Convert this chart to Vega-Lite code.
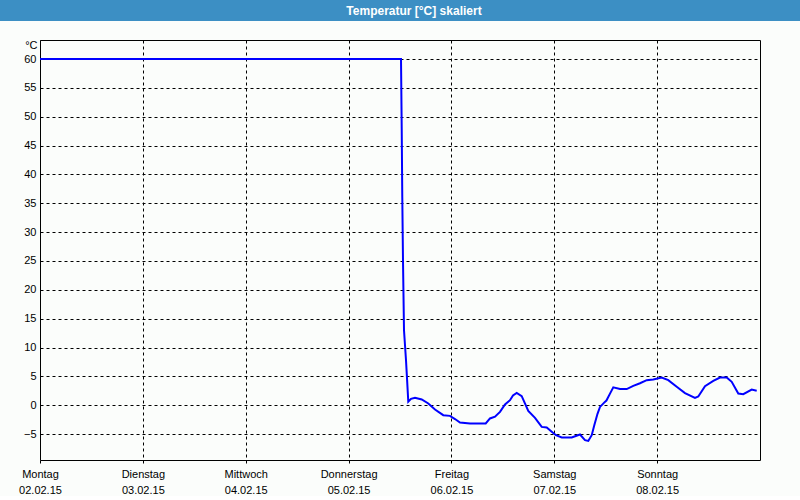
{
  "$schema": "https://vega.github.io/schema/vega-lite/v6.json",
  "padding": 0,
  "background": "#fbfdfb",
  "spacing": 19,
  "bounds": "flush",
  "center": true,
  "config": {
    "font": "Liberation Sans",
    "axis": {"labelFont": "Liberation Sans", "labelFontSize": 11, "labelColor": "#000000"}
  },
  "vconcat": [
    {
      "width": 800,
      "height": 21,
      "view": {"fill": "#3c8fc4", "stroke": null},
      "data": {"values": [{"titel": "Temperatur [°C] skaliert"}]},
      "mark": {"type": "text", "color": "#ffffff", "fontWeight": "bold", "fontSize": 12, "font": "Liberation Sans", "dx": 14, "baseline": "middle", "align": "center"},
      "encoding": {"text": {"field": "titel"}}
    },
    {
      "width": 720,
      "height": 420,
      "view": {"fill": "#fbfdfb", "stroke": "#000000", "strokeWidth": 1},
      "data": {
        "values": [
          {"zeit": "2015-02-02T00:00", "temp": 60},
          {"zeit": "2015-02-05T12:14", "temp": 60},
          {"zeit": "2015-02-05T12:24", "temp": 48},
          {"zeit": "2015-02-05T12:32", "temp": 36},
          {"zeit": "2015-02-05T12:42", "temp": 25},
          {"zeit": "2015-02-05T12:56", "temp": 13},
          {"zeit": "2015-02-05T13:10", "temp": 10.4},
          {"zeit": "2015-02-05T13:24", "temp": 7.8},
          {"zeit": "2015-02-05T13:38", "temp": 4.7},
          {"zeit": "2015-02-05T13:56", "temp": 0.6},
          {"zeit": "2015-02-05T14:34", "temp": 1.1},
          {"zeit": "2015-02-05T15:30", "temp": 1.3},
          {"zeit": "2015-02-05T17:04", "temp": 1.0},
          {"zeit": "2015-02-05T18:36", "temp": 0.3},
          {"zeit": "2015-02-05T20:10", "temp": -0.75},
          {"zeit": "2015-02-05T22:06", "temp": -1.73},
          {"zeit": "2015-02-05T23:40", "temp": -1.85},
          {"zeit": "2015-02-06T00:50", "temp": -2.4},
          {"zeit": "2015-02-06T02:00", "temp": -3.0},
          {"zeit": "2015-02-06T04:20", "temp": -3.17},
          {"zeit": "2015-02-06T08:00", "temp": -3.17},
          {"zeit": "2015-02-06T09:00", "temp": -2.3},
          {"zeit": "2015-02-06T10:10", "temp": -2.0},
          {"zeit": "2015-02-06T11:20", "temp": -1.16},
          {"zeit": "2015-02-06T12:30", "temp": 0.12},
          {"zeit": "2015-02-06T13:40", "temp": 0.87},
          {"zeit": "2015-02-06T14:22", "temp": 1.7},
          {"zeit": "2015-02-06T15:14", "temp": 2.13},
          {"zeit": "2015-02-06T16:24", "temp": 1.56},
          {"zeit": "2015-02-06T17:56", "temp": -0.98},
          {"zeit": "2015-02-06T19:30", "temp": -2.2},
          {"zeit": "2015-02-06T21:04", "temp": -3.76},
          {"zeit": "2015-02-06T22:14", "temp": -3.87},
          {"zeit": "2015-02-06T23:24", "temp": -4.6},
          {"zeit": "2015-02-07T00:24", "temp": -5.2},
          {"zeit": "2015-02-07T01:44", "temp": -5.6},
          {"zeit": "2015-02-07T04:04", "temp": -5.6},
          {"zeit": "2015-02-07T06:00", "temp": -5.08},
          {"zeit": "2015-02-07T07:10", "temp": -6.07},
          {"zeit": "2015-02-07T07:56", "temp": -6.2},
          {"zeit": "2015-02-07T08:44", "temp": -5.2},
          {"zeit": "2015-02-07T09:20", "temp": -3.47},
          {"zeit": "2015-02-07T10:05", "temp": -1.5},
          {"zeit": "2015-02-07T10:40", "temp": -0.3},
          {"zeit": "2015-02-07T11:35", "temp": 0.4},
          {"zeit": "2015-02-07T12:10", "temp": 0.8},
          {"zeit": "2015-02-07T13:00", "temp": 2.0},
          {"zeit": "2015-02-07T13:46", "temp": 3.1},
          {"zeit": "2015-02-07T15:20", "temp": 2.8},
          {"zeit": "2015-02-07T16:54", "temp": 2.8},
          {"zeit": "2015-02-07T18:26", "temp": 3.35},
          {"zeit": "2015-02-07T20:00", "temp": 3.8},
          {"zeit": "2015-02-07T21:34", "temp": 4.34},
          {"zeit": "2015-02-07T23:06", "temp": 4.45},
          {"zeit": "2015-02-08T01:04", "temp": 4.8},
          {"zeit": "2015-02-08T02:36", "temp": 4.34},
          {"zeit": "2015-02-08T04:34", "temp": 3.2},
          {"zeit": "2015-02-08T06:30", "temp": 2.1},
          {"zeit": "2015-02-08T08:50", "temp": 1.27},
          {"zeit": "2015-02-08T09:36", "temp": 1.5},
          {"zeit": "2015-02-08T11:10", "temp": 3.3},
          {"zeit": "2015-02-08T13:06", "temp": 4.2},
          {"zeit": "2015-02-08T14:40", "temp": 4.8},
          {"zeit": "2015-02-08T16:14", "temp": 4.8},
          {"zeit": "2015-02-08T17:24", "temp": 4.05},
          {"zeit": "2015-02-08T18:56", "temp": 2.03},
          {"zeit": "2015-02-08T20:06", "temp": 1.9},
          {"zeit": "2015-02-08T22:04", "temp": 2.7},
          {"zeit": "2015-02-08T23:14", "temp": 2.5}
        ]
      },
      "mark": {"type": "line", "color": "#0000ff", "strokeWidth": 2, "clip": true},
      "encoding": {
        "x": {
          "field": "zeit",
          "type": "temporal",
          "scale": {"domain": [{"year": 2015, "month": 2, "date": 2}, {"year": 2015, "month": 2, "date": 9}], "nice": false},
          "axis": {
            "title": null,
            "values": [
              {"year": 2015, "month": 2, "date": 2},
              {"year": 2015, "month": 2, "date": 3},
              {"year": 2015, "month": 2, "date": 4},
              {"year": 2015, "month": 2, "date": 5},
              {"year": 2015, "month": 2, "date": 6},
              {"year": 2015, "month": 2, "date": 7},
              {"year": 2015, "month": 2, "date": 8}
            ],
            "labelExpr": "[['Sonntag','Montag','Dienstag','Mittwoch','Donnerstag','Freitag','Samstag'][day(datum.value)], timeFormat(datum.value, '%d.%m.%y')]",
            "labelFlush": false,
            "labelOverlap": false,
            "labelBound": false,
            "labelAlign": "center",
            "labelBaseline": "top",
            "labelPadding": 5,
            "labelLineHeight": 16,
            "domain": false,
            "ticks": true,
            "tickSize": 3,
            "tickColor": "#000000",
            "grid": true,
            "gridColor": "#000000",
            "gridDash": [3, 3],
            "gridOpacity": 1,
            "gridWidth": 1
          }
        },
        "y": {
          "field": "temp",
          "type": "quantitative",
          "scale": {"domain": [-9.5, 63.3], "nice": false, "zero": false},
          "axis": {
            "title": "°C",
            "titleAngle": 0,
            "titleAlign": "right",
            "titleBaseline": "middle",
            "titleX": -3,
            "titleY": 5,
            "titleFontWeight": "normal",
            "titleFontSize": 11,
            "titleFont": "Liberation Sans",
            "titleColor": "#000000",
            "values": [-5, 0, 5, 10, 15, 20, 25, 30, 35, 40, 45, 50, 55, 60],
            "labelPadding": 4,
            "labelFlush": false,
            "labelOverlap": false,
            "domain": false,
            "ticks": false,
            "grid": true,
            "gridColor": "#000000",
            "gridDash": [3, 3],
            "gridOpacity": 1,
            "gridWidth": 1
          }
        }
      }
    }
  ]
}
